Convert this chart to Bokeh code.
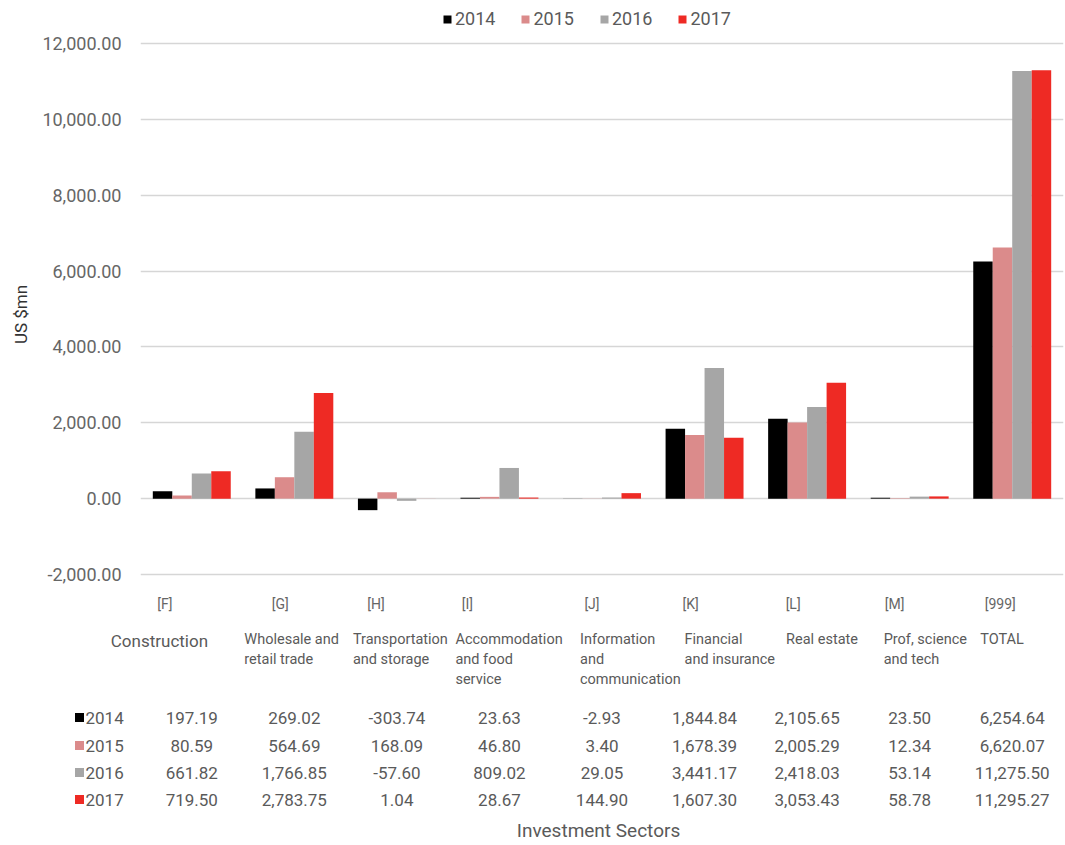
from bokeh.plotting import figure
from bokeh.models import (FactorRange, Range1d, ColumnDataSource, FixedTicker,
                          NumeralTickFormatter, Legend, LegendItem)
from bokeh.transform import dodge
from bokeh.core.properties import value
from bokeh.embed import file_html
from bokeh.resources import INLINE

# ---- data -----------------------------------------------------------------
codes = ["[F]", "[G]", "[H]", "[I]", "[J]", "[K]", "[L]", "[M]", "[999]"]
sectors = ["Construction", "Wholesale and\nretail trade", "Transportation\nand storage",
           "Accommodation\nand food\nservice", "Information\nand\ncommunication",
           "Financial\nand insurance", "Real estate", "Prof, science\nand tech", "TOTAL"]
years = ["2014", "2015", "2016", "2017"]
v2014 = [197.19, 269.02, -303.74, 23.63, -2.93, 1844.84, 2105.65, 23.50, 6254.64]
v2015 = [80.59, 564.69, 168.09, 46.80, 3.40, 1678.39, 2005.29, 12.34, 6620.07]
v2016 = [661.82, 1766.85, -57.60, 809.02, 29.05, 3441.17, 2418.03, 53.14, 11275.50]
v2017 = [719.50, 2783.75, 1.04, 28.67, 144.90, 1607.30, 3053.43, 58.78, 11295.27]
y_ticks = [-2000, 0, 2000, 4000, 6000, 8000, 10000, 12000]

# ---- styling / layout -----------------------------------------------------
colors = ["#000000", "#db8b8b", "#a6a6a6", "#ee2a24"]
FONT = "Roboto"
TXT = "#5a5a5a"
W, H = 1065, 845
LEFT, RIGHT = 140, 2            # plot-area margins (px)
GRID_TOP, GRID_BOTTOM = 43, 574  # pixel rows of the top and bottom gridlines
H1 = 628                         # chart part; the table panel fills the rest
H2 = H - H1
BAR_W = 0.19
offsets = [-1.5 * BAR_W, -0.5 * BAR_W, 0.5 * BAR_W, 1.5 * BAR_W]
# horizontal nudges (px) of the table header cells from each column centre
code_shift = [-27, -14, -21, -32, -10, -14, -14, -15, -12]
name_shift = [-81, -50, -44, -44, -22, -20, -21, -26, -32]
LEGEND_POS = (302, 599)          # legend box anchor inside the plot area (px)

series = [v2014, v2015, v2016, v2017]
src = ColumnDataSource(dict(code=codes, shift=code_shift,
                            **{f"y{y}": s for y, s in zip(years, series)}))

# value axis spans the gridlines; the frame runs to the top and bottom edges
px_per_unit = (GRID_BOTTOM - GRID_TOP) / (y_ticks[-1] - y_ticks[0])
y_start = y_ticks[0] - (H1 - GRID_BOTTOM) / px_per_unit
y_end = y_ticks[-1] + GRID_TOP / px_per_unit

# ---- bar chart ------------------------------------------------------------
p = figure(width=W, height=H1, x_range=FactorRange(factors=codes, range_padding=0),
           y_range=Range1d(y_start, y_end), output_backend="svg", toolbar_location=None,
           x_axis_location=None, min_border_left=LEFT, min_border_right=RIGHT,
           min_border_top=0, min_border_bottom=0)
p.extra_y_ranges = {"page": Range1d(H1, 0)}
p.outline_line_color = None
p.xgrid.grid_line_color = None
p.ygrid.ticker = FixedTicker(ticks=y_ticks)
p.ygrid.grid_line_color = "#d6d6d6"
p.ygrid.grid_line_width = 1.4
p.yaxis.ticker = FixedTicker(ticks=y_ticks)
p.yaxis.formatter = NumeralTickFormatter(format="0,0.00")
p.yaxis.axis_line_color = None
p.yaxis.major_tick_line_color = None
p.yaxis.minor_tick_line_color = None
p.yaxis.major_tick_out = 0
p.yaxis.major_label_standoff = 19
p.yaxis.major_label_text_font = FONT
p.yaxis.major_label_text_font_size = "18px"
p.yaxis.major_label_text_color = "#666666"
p.yaxis.axis_label = "US $mn"
p.yaxis.axis_label_text_font = FONT
p.yaxis.axis_label_text_font_style = "normal"
p.yaxis.axis_label_text_font_size = "17px"
p.yaxis.axis_label_text_color = "#333333"
p.yaxis.axis_label_standoff = 8

items = []
for y, off, c in zip(years, offsets, colors):
    r = p.vbar(x=dodge("code", off, range=p.x_range), top=f"y{y}", bottom=0,
               width=BAR_W, source=src, fill_color=c, line_color=None)
    items.append(LegendItem(label=y, renderers=[r]))

legend = Legend(items=items, orientation="horizontal", location=LEGEND_POS,
                margin=0, padding=8, spacing=25, glyph_width=10, glyph_height=10,
                label_standoff=3, label_height=20, label_text_font=FONT,
                label_text_font_size="18px", label_text_color=TXT,
                border_line_color=None, background_fill_alpha=0)
p.add_layout(legend)

# sector codes just under the plot area
p.text(x="code", y=603, text="code", x_offset="shift", source=src, y_range_name="page",
       text_font=value(FONT), text_font_size="14px", text_color="#666666",
       text_align="center", text_baseline="middle")

# ---- data table under the chart ------------------------------------------
band = (W - LEFT - RIGHT) / len(codes)
t = figure(width=W, height=H2, x_range=Range1d(-LEFT / band, (W - LEFT) / band),
           y_range=Range1d(H, H1), output_backend="svg", toolbar_location=None,
           x_axis_location=None, y_axis_location=None, min_border=0)
t.grid.visible = False
t.outline_line_color = None

cx = [i + 0.5 for i in range(len(codes))]
name_x = [c + s / band for c, s in zip(cx, name_shift)]
t.text(x=name_x[:1], y=[640], text=sectors[:1], text_font=value(FONT),
       text_font_size="17px", text_color=TXT, text_align="left", text_baseline="middle")
t.text(x=name_x[1:], y=[630] * (len(codes) - 1), text=sectors[1:], text_font=value(FONT),
       text_font_size="14.5px", text_color=TXT, text_align="left", text_baseline="top",
       text_line_height=1.2)

row_y = [717, 745, 772, 799]
t.scatter(x=[(79 - LEFT) / band] * 4, y=row_y, marker="square", size=9,
          fill_color=colors, line_color=None)
t.text(x=[(85 - LEFT) / band] * 4, y=row_y, text=years, text_font=value(FONT),
       text_font_size="17px", text_color=TXT, text_align="left", text_baseline="middle")
for yy, s in zip(row_y, series):
    t.text(x=cx, y=[yy] * len(codes), text=[f"{v:,.2f}" for v in s],
           text_font=value(FONT), text_font_size="17px", text_color=TXT,
           text_align="center", text_baseline="middle")

t.text(x=[(598 - LEFT) / band], y=[830], text=["Investment Sectors"], text_font=value(FONT),
       text_font_size="19px", text_color=TXT, text_align="center", text_baseline="middle")

open("out.html", "w").write(file_html([p, t], INLINE))
